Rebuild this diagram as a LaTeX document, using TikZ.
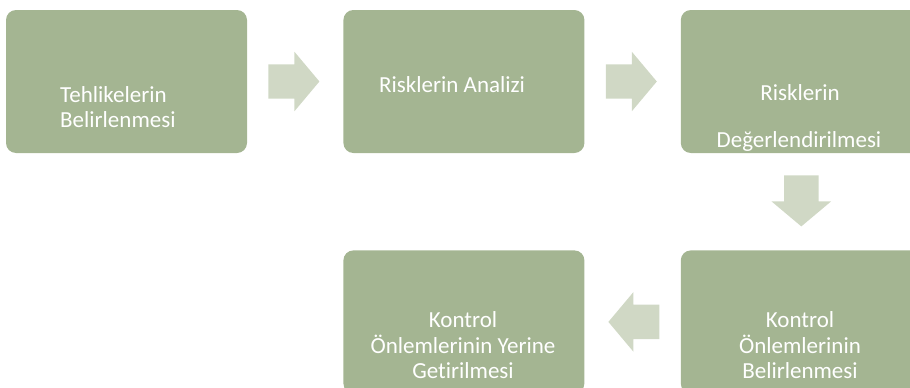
\documentclass[tikz,border=0pt]{standalone}
\usepackage{fontspec}
\setmainfont{Carlito}[Ligatures=NoCommon]
\usepackage{xcolor}
\usepackage{tikz}
\usetikzlibrary{positioning}
\usetikzlibrary{shapes.arrows}
\usetikzlibrary{calc}

\definecolor{boxgreen}{RGB}{164,181,146}
\definecolor{arrowgreen}{RGB}{208,216,197}

\tikzset{
  stepbox/.style={rectangle, rounded corners=10pt, fill=boxgreen, draw=none,
    minimum width=241pt, minimum height=143pt, inner sep=0pt},
  steptext/.style={text=white, font=\fontsize{23}{25}\selectfont, inner sep=0pt},
  blockarrow/.style={single arrow, fill=arrowgreen, draw=none,
    inner xsep=0pt, inner ysep=17pt, anchor=tail,
    minimum height=51pt, minimum width=59pt, single arrow head extend=12.5pt,
    single arrow tip angle=100}
}

\begin{document}
\begin{tikzpicture}[x=1pt,y=-1pt]
    \useasboundingbox (0,0) rectangle (910,388);
    \clip (0,0) rectangle (910,388);
    % the five steps
    \node[stepbox] (tehlike) at (126.5,81.5) {};
    \node[stepbox, right=96pt of tehlike] (analiz) {};
    \node[stepbox, right=96pt of analiz] (degerlendir) {};
    \node[stepbox, below=97pt of degerlendir] (belirle) {};
    \node[stepbox, left=96pt of belirle] (yerine) {};
    % texts
    \node[steptext, anchor=base west] (t1a) at (60,102) {Tehlikelerin};
    \node[steptext, anchor=base west] (t1b) at (60,127) {Belirlenmesi};
    \node[steptext, anchor=base west] (t2) at (379,92) {Risklerin Analizi};
    \node[steptext, anchor=base] (t3a) at (800,100) {Risklerin};
    \node[steptext, anchor=base] (t3b) at (799,147) {Değerlendirilmesi};
    \node[steptext, anchor=base] (t4a) at (463,327) {Kontrol};
    \node[steptext, anchor=base] (t4b) at (463,353) {Önlemlerinin Yerine};
    \node[steptext, anchor=base] (t4c) at (463,378) {Getirilmesi};
    \node[steptext, anchor=base] (t5a) at (800,327) {Kontrol};
    \node[steptext, anchor=base] (t5b) at (800,353) {Önlemlerinin};
    \node[steptext, anchor=base] (t5c) at (800,378) {Belirlenmesi};
    % arrows between the steps
    \node[blockarrow] (a1) at ([xshift=21pt]tehlike.east) {};
    \node[blockarrow] (a2) at ([xshift=21pt]analiz.east) {};
    \node[blockarrow, rotate=-90] (a3) at ([yshift=-22pt]degerlendir.south) {};
    \node[blockarrow, rotate=180] (a4) at ([xshift=-21pt]belirle.west) {};
  \end{tikzpicture}
\end{document}
